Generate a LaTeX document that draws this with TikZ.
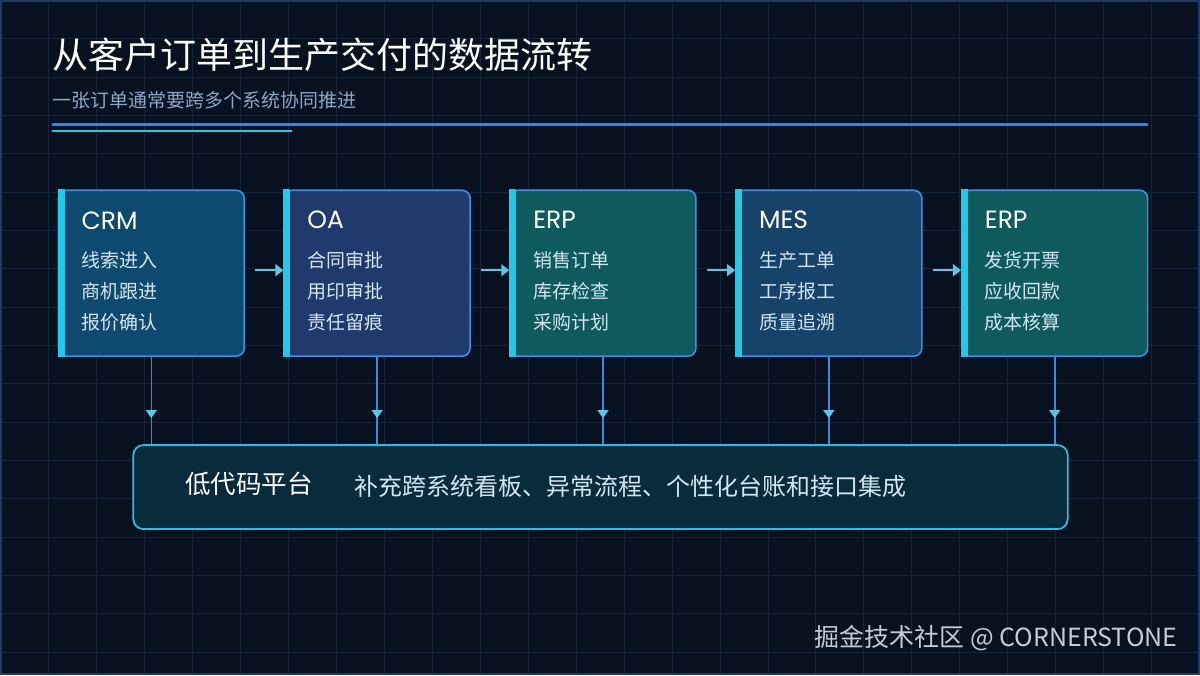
\documentclass[tikz,border=0pt]{standalone}
\usepackage{fontspec}
\setmainfont{Noto Sans CJK SC}
\newfontfamily\headfont{Poppins}
\usetikzlibrary{arrows.meta,decorations.markings}

\definecolor{bgcol}{HTML}{08111F}
\definecolor{gridcol}{HTML}{16243A}
\definecolor{framecol}{HTML}{1E3A66}
\definecolor{subcol}{HTML}{8BA8C8}
\definecolor{ruleblue}{HTML}{2F86E6}
\definecolor{rulecyan}{HTML}{2CC3E6}
\definecolor{boxedge}{HTML}{3C8FE6}
\definecolor{stripcol}{HTML}{22C9E9}
\definecolor{crmfill}{HTML}{0E4A70}
\definecolor{oafill}{HTML}{213A6E}
\definecolor{erpfill}{HTML}{0E5A5C}
\definecolor{mesfill}{HTML}{17426A}
\definecolor{itemcol}{HTML}{D4E6F2}
\definecolor{flowcol}{HTML}{5BC6E6}
\definecolor{dropcol}{HTML}{3F8AE0}
\definecolor{platfill}{HTML}{082C3C}
\definecolor{platedge}{HTML}{36B6E0}
\definecolor{footcol}{HTML}{C4CCD6}

\begin{document}
\begin{tikzpicture}[x=1pt, y=-1pt,
  gridline/.style={gridcol, line width=0.8pt},
  sysbox/.style={rectangle, rounded corners=8pt, draw=boxedge, line width=1.6pt, minimum width=186pt, minimum height=166pt, inner sep=0pt},
  sysname/.style={anchor=west, inner sep=0pt, text=white, font=\headfont\fontsize{25}{25}\selectfont},
  sysitems/.style={anchor=west, inner sep=0pt, align=left, text=itemcol, font=\fontsize{19}{31}\selectfont},
  flowarrow/.style={flowcol, line width=1.8pt, -{Triangle[width=12pt, length=8pt]}},
  droparrow/.style={dropcol, line width=1.6pt, postaction={decorate, decoration={markings, mark=at position 0.7 with {\arrow{Triangle[width=11pt, length=8pt, color=flowcol]}}}}}]

% background, grid and frame
\fill[bgcol] (0,0) rectangle (1200,675);
\foreach \gx in {1,...,24} \draw[gridline] (48*\gx,0) -- (48*\gx,675);
\foreach \gy in {1,...,17} \draw[gridline] (0,38.35*\gy) -- (1200,38.35*\gy);
\draw[framecol, line width=2pt] (1,1) rectangle (1199,674);

% heading
\node[anchor=west, inner sep=0pt, text=white, font=\fontsize{36}{36}\selectfont] (title) at (52,54) {从客户订单到生产交付的数据流转};
\node[anchor=west, inner sep=0pt, text=subcol, font=\fontsize{19}{19}\selectfont] (subtitle) at (52,100) {一张订单通常要跨多个系统协同推进};
\draw[ruleblue, line width=3pt] (52,124) -- (1148,124);
\draw[rulecyan, line width=2pt] (52,130.5) -- (292,130.5);

% systems
\node[sysbox, fill=crmfill] (crm) at (151,273) {};
\node[sysbox, fill=oafill] (oa) at (377,273) {};
\node[sysbox, fill=erpfill] (erpa) at (603,273) {};
\node[sysbox, fill=mesfill] (mes) at (829,273) {};
\node[sysbox, fill=erpfill] (erpb) at (1055,273) {};
\fill[stripcol] (crm.north west) rectangle ([xshift=7pt]crm.south west);
\fill[stripcol] (oa.north west) rectangle ([xshift=7pt]oa.south west);
\fill[stripcol] (erpa.north west) rectangle ([xshift=7pt]erpa.south west);
\fill[stripcol] (mes.north west) rectangle ([xshift=7pt]mes.south west);
\fill[stripcol] (erpb.north west) rectangle ([xshift=7pt]erpb.south west);

\node[sysname] (crmname) at (81,220) {CRM};
\node[sysitems] (crmitems) at (81,291) {线索进入\\商机跟进\\报价确认};
\node[sysname] (oaname) at (307,220) {OA};
\node[sysitems] (oaitems) at (307,291) {合同审批\\用印审批\\责任留痕};
\node[sysname] (erpaname) at (533,220) {ERP};
\node[sysitems] (erpaitems) at (533,291) {销售订单\\库存检查\\采购计划};
\node[sysname] (mesname) at (759,220) {MES};
\node[sysitems] (mesitems) at (759,291) {生产工单\\工序报工\\质量追溯};
\node[sysname] (erpbname) at (985,220) {ERP};
\node[sysitems] (erpbitems) at (985,291) {发货开票\\应收回款\\成本核算};

\draw[flowarrow] ([xshift=10pt, yshift=3pt]crm.east) -- ([yshift=3pt]oa.west);
\draw[flowarrow] ([xshift=10pt, yshift=3pt]oa.east) -- ([yshift=3pt]erpa.west);
\draw[flowarrow] ([xshift=10pt, yshift=3pt]erpa.east) -- ([yshift=3pt]mes.west);
\draw[flowarrow] ([xshift=10pt, yshift=3pt]mes.east) -- ([yshift=3pt]erpb.west);

% low-code platform
\node[rectangle, rounded corners=10pt, draw=platedge, line width=1.8pt, fill=platfill, minimum width=935pt, minimum height=84pt] (platform) at (600.5,487) {};
\node[anchor=west, inner sep=0pt, text=white, font=\fontsize{25.5}{25.5}\selectfont] (platname) at (185,484) {低代码平台};
\node[anchor=west, inner sep=0pt, text=itemcol, font=\fontsize{24}{24}\selectfont] (platnote) at (354,486) {补充跨系统看板、异常流程、个性化台账和接口集成};

\draw[droparrow] (crm.south) -- (crm.south |- platform.north);
\draw[droparrow] (oa.south) -- (oa.south |- platform.north);
\draw[droparrow] (erpa.south) -- (erpa.south |- platform.north);
\draw[droparrow] (mes.south) -- (mes.south |- platform.north);
\draw[droparrow] (erpb.south) -- (erpb.south |- platform.north);

% footer
\node[anchor=east, inner sep=0pt, text=footcol, font=\fontsize{25}{25}\selectfont] (footer) at (1178,638) {掘金技术社区 @ CORNERSTONE};

\end{tikzpicture}
\end{document}
